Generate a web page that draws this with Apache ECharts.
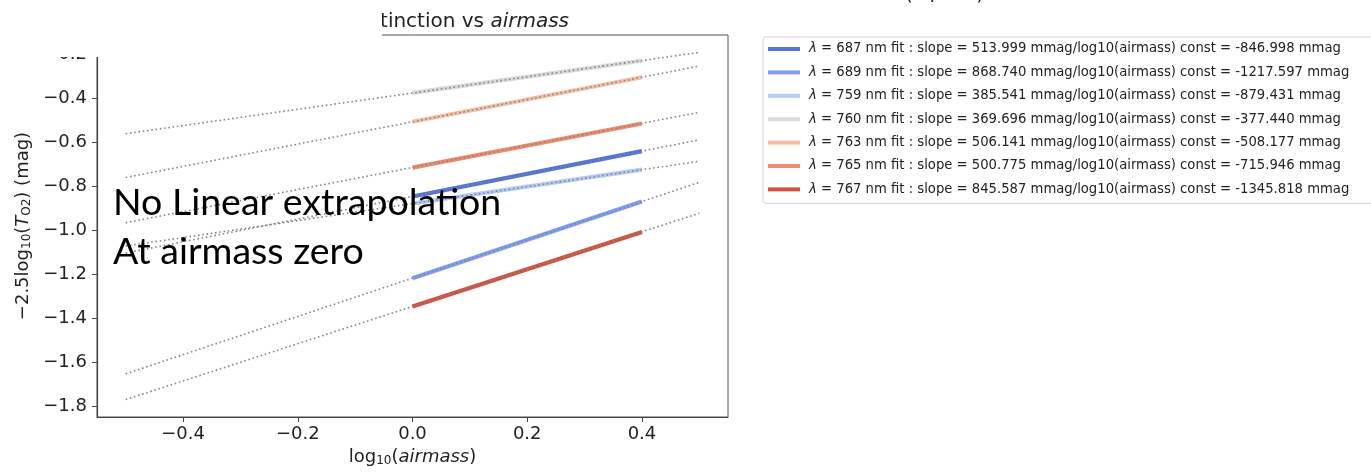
<!DOCTYPE html>
<html>
<head>
<meta charset="utf-8">
<script src="https://cdn.jsdelivr.net/npm/echarts@6/dist/echarts.min.js"></script>
<style>html,body{margin:0;padding:0;background:#fff;}#chart{width:1371px;height:472px;}</style>
</head>
<body>
<div id="chart"></div>
<script>
var wavelengths = [687, 689, 759, 760, 763, 765, 767];
var slopes = ['513.999', '868.740', '385.541', '369.696', '506.141', '500.775', '845.587'];
var consts = ['-846.998', '-1217.597', '-879.431', '-377.440', '-508.177', '-715.946', '-1345.818'];
var fitX = [0, 0.4];
var fitStartY = [-0.847, -1.218, -0.879, -0.377, -0.508, -0.716, -1.346];
var fitEndY = [-0.641, -0.870, -0.725, -0.230, -0.306, -0.516, -1.008];
var extX = [-0.5, 0.5];
var extLeftY = [-1.104, -1.652, -1.072, -0.562, -0.761, -0.966, -1.769];
var extRightY = [-0.590, -0.783, -0.687, -0.193, -0.255, -0.465, -0.923];
var xTicks = [-0.4, -0.2, 0.0, 0.2, 0.4];
var yTicks = [-1.8, -1.6, -1.4, -1.2, -1.0, -0.8, -0.6, -0.4, -0.2];
var colors = ['#5272dc', '#7d9ef5', '#b3cbf6', '#dadada', '#f6bea6', '#ee8a6d', '#d4503f'];

function fmtTick(v) { var s = Math.abs(v).toFixed(1); return (v < 0 ? '\u2212' : '') + s; }

var names = wavelengths.map(function (w, i) {
  return '\u03bb = ' + w + ' nm fit : slope = ' + slopes[i] + ' mmag/log10(airmass) const = ' + consts[i] + ' mmag';
});

var series = [];
wavelengths.forEach(function (w, i) {
  series.push({
    name: names[i], type: 'line', symbol: 'none', silent: true, z: 2,
    data: [[fitX[0], fitStartY[i]], [fitX[1], fitEndY[i]]],
    lineStyle: { color: colors[i], width: 4.2, cap: 'butt' },
    itemStyle: { color: colors[i] }
  });
});
wavelengths.forEach(function (w, i) {
  series.push({
    name: 'ext' + w, type: 'line', symbol: 'none', silent: true, z: 3,
    data: [[extX[0], extLeftY[i]], [extX[1], extRightY[i]]],
    lineStyle: { color: '#858585', width: 1.6, type: [1.6, 2.7] }
  });
});

var chart = echarts.init(document.getElementById('chart'), null, { renderer: 'canvas' });
chart.setOption({
  backgroundColor: '#ffffff',
  animation: false,
  grid: { left: 97, right: 643, top: 35, bottom: 53, show: true, borderColor: '#555', borderWidth: 1, containLabel: false },
  xAxis: {
    type: 'value', min: -0.55, max: 0.55,
    name: 'log{sub|10}({it|airmass})', nameLocation: 'middle', nameGap: 30,
    nameTextStyle: { fontFamily: 'DejaVu Sans', fontSize: 18, color: '#222',
      rich: { sub: { fontFamily: 'DejaVu Sans', fontSize: 12, color: '#222', verticalAlign: 'bottom', padding: [8, 0, 0, 0] },
              it: { fontFamily: 'DejaVu Sans', fontStyle: 'italic', fontSize: 18, color: '#222' } } },
    axisLine: { show: true, onZero: false, lineStyle: { color: '#444', width: 1.2 } },
    axisTick: { show: true, length: 5, inside: false, lineStyle: { color: '#444' }, customValues: xTicks },
    axisLabel: { customValues: xTicks, formatter: fmtTick, fontFamily: 'DejaVu Sans', fontSize: 18, color: '#222', margin: 8 },
    splitLine: { show: false }
  },
  yAxis: {
    type: 'value', min: -1.848, max: -0.114,
    name: '\u22122.5log{sub|10}({it|T}{sub|O2}) (mag)', nameLocation: 'middle', nameRotate: 90, nameGap: 64,
    nameTextStyle: { fontFamily: 'DejaVu Sans', fontSize: 18, color: '#222',
      rich: { sub: { fontFamily: 'DejaVu Sans', fontSize: 12, color: '#222', verticalAlign: 'bottom', padding: [8, 0, 0, 0] },
              it: { fontFamily: 'DejaVu Sans', fontStyle: 'italic', fontSize: 18, color: '#222' } } },
    axisLine: { show: true, onZero: false, lineStyle: { color: '#444', width: 1.2 } },
    axisTick: { show: true, length: 5, inside: false, lineStyle: { color: '#444' }, customValues: yTicks },
    axisLabel: { customValues: yTicks, formatter: fmtTick, fontFamily: 'DejaVu Sans', fontSize: 18, color: '#222', margin: 10 },
    splitLine: { show: false }
  },
  legend: {
    show: true, orient: 'vertical', left: 763, top: 37,
    data: names,
    icon: 'rect', itemWidth: 32, itemHeight: 4, itemGap: 7.4,
    padding: [4, 40, 6, 5],
    backgroundColor: '#fff', borderColor: '#d4d4d4', borderWidth: 1, borderRadius: 3,
    selectedMode: false,
    formatter: function (n) { return n.replace('\u03bb', '{lam|\u03bb}'); },
    textStyle: { fontFamily: 'DejaVu Sans', fontSize: 13.2, color: '#222', lineHeight: 16, padding: [0, 0, 0, 4],
      rich: { lam: { fontFamily: 'DejaVu Sans', fontStyle: 'italic', fontSize: 13.2, color: '#222' } } }
  },
  graphic: [
    { type: 'text', z: 10, style: { x: 569, y: 22, text: 'Extinction vs {it|airmass}', textAlign: 'right', textVerticalAlign: 'middle',
      fontFamily: 'DejaVu Sans', fontSize: 20, fill: '#222',
      rich: { it: { fontFamily: 'DejaVu Sans', fontStyle: 'italic', fontSize: 20, fill: '#222' } } } },
    { type: 'rect', z: 20, shape: { x: 0, y: 0, width: 382, height: 57 }, style: { fill: '#ffffff' } },
    { type: 'text', z: 10, style: { x: 905, y: 5, text: '(\u03bb / nm)', textAlign: 'left', textVerticalAlign: 'bottom', fontFamily: 'DejaVu Sans', fontSize: 20, fill: '#222' } },
    { type: 'text', z: 30, style: { x: 113, y: 203, text: 'No Linear extrapolation', textVerticalAlign: 'middle', fontFamily: 'Lato', fontSize: 37.5, fill: '#000' } },
    { type: 'text', z: 30, style: { x: 113, y: 252, text: 'At airmass zero', textVerticalAlign: 'middle', fontFamily: 'Lato', fontSize: 37.5, fill: '#000' } }
  ],
  series: series
});
</script>
</body>
</html>
